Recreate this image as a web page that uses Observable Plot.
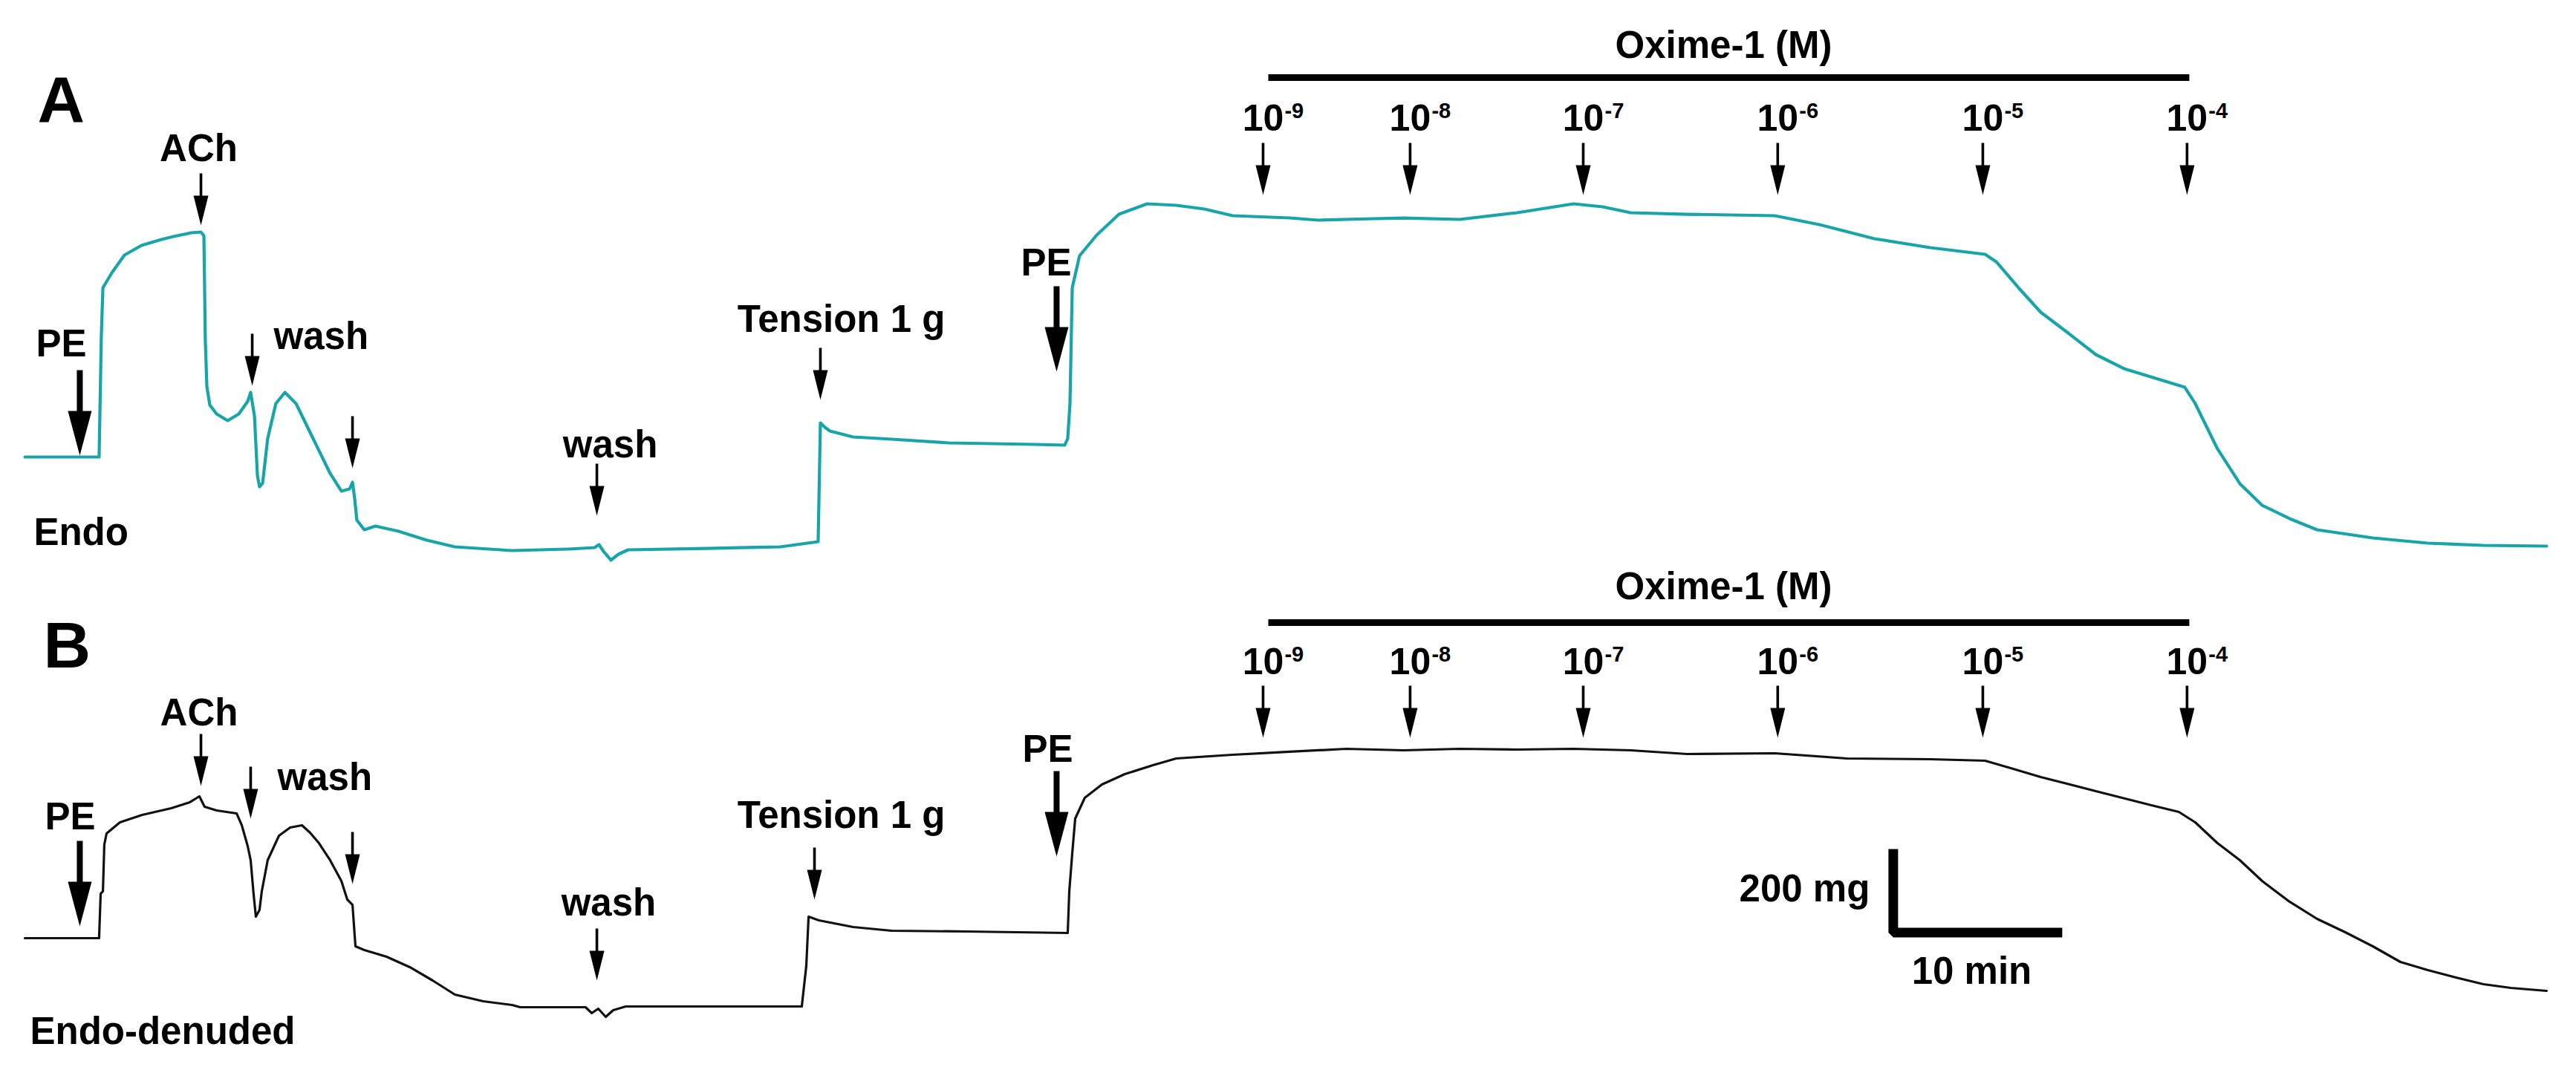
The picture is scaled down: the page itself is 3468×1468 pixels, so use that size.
<!DOCTYPE html>
<html>
<head>
<meta charset="utf-8">
<script src="https://cdn.jsdelivr.net/npm/d3@7"></script>
<script src="https://cdn.jsdelivr.net/npm/@observablehq/plot@0.6"></script>
<style>
  html, body { margin: 0; padding: 0; background: #ffffff; }
  #chart { width: 3468px; height: 1468px; }
  #chart svg { display: block; max-width: none; }
</style>
</head>
<body>
<div id="chart"></div>
<script>
// ---------------- DATA (time in min, tension in mg) ----------------
// Panel A: endothelium-intact (Endo)
const timeA = [
  0, 4.27, 4.40, 4.49, 5.00, 5.73, 6.71, 7.86, 8.55, 9.57,
  10.13, 10.30, 10.38, 10.47, 10.64, 11.03, 11.67, 12.31, 12.82, 12.99,
  13.21, 13.38, 13.50, 13.68, 13.97, 14.44, 14.96, 15.60, 16.58, 17.56,
  18.21, 18.68, 18.85, 18.97, 19.10, 19.53, 20.17, 21.50, 23.12, 24.74,
  28.03, 31.28, 32.78, 33.03, 33.29, 33.72, 34.15, 34.70, 39.19, 43.46,
  45.34, 45.64, 45.77, 46.03, 46.32, 47.65, 49.87, 53.16, 58.03, 59.83,
  60.00, 60.13, 60.26, 60.68, 61.67, 62.95, 64.57, 66.24, 67.86, 69.49,
  72.78, 74.40, 77.65, 79.32, 82.56, 85.85, 89.10, 90.77, 92.39, 95.64,
  100.68, 103.25, 106.41, 109.62, 112.78, 113.42, 114.70, 115.98, 117.56, 119.15,
  120.77, 124.27, 124.87, 126.15, 127.44, 128.72, 130.30, 131.88, 135.09, 138.25,
  141.45, 145.09
];
const tensionA = [
  211.8, 211.8, 489.1, 595.0, 628.6, 668.9, 690.8, 704.2, 710.9, 719.3,
  721.0, 712.6, 477.3, 371.4, 329.4, 309.2, 294.1, 309.2, 337.8, 358.0,
  304.2, 169.7, 144.5, 152.9, 253.8, 332.8, 358.0, 332.8, 253.8, 174.8,
  134.5, 139.5, 154.6, 119.3, 68.9, 47.1, 55.5, 43.7, 23.5, 8.4,
  0, 3.4, 6.7, 13.4, -1.7, -21.8, -8.4, 1.7, 5.0, 8.4,
  18.5, 20.2, 289.1, 279.0, 270.6, 257.1, 252.1, 243.7, 240.3, 238.7,
  253.8, 332.8, 595.0, 667.2, 714.3, 761.3, 784.9, 781.5, 773.1, 758.0,
  752.9, 747.9, 751.3, 752.9, 749.6, 764.7, 784.9, 778.2, 764.7, 761.3,
  758.0, 737.8, 705.9, 685.7, 670.6, 653.8, 595.0, 539.5, 492.4, 443.7,
  411.8, 369.7, 332.8, 230.3, 151.3, 102.5, 72.3, 47.1, 28.6, 16.8,
  11.8, 10.1
];
// Panel B: endothelium-denuded
const timeB = [
  0, 4.27, 4.36, 4.49, 4.57, 4.70, 5.47, 6.75, 8.42, 9.49,
  10.04, 10.34, 11.03, 12.18, 12.48, 12.82, 12.99, 13.16, 13.29, 13.50,
  13.63, 13.97, 14.62, 15.26, 15.94, 16.41, 16.92, 17.56, 18.21, 18.55,
  18.85, 19.02, 19.53, 20.81, 22.14, 23.46, 24.74, 26.37, 28.03, 28.50,
  32.26, 32.61, 32.99, 33.42, 33.85, 34.57, 39.19, 44.70, 44.96, 45.09,
  45.68, 47.65, 49.87, 54.15, 60.00, 60.09, 60.26, 60.43, 60.98, 61.97,
  63.29, 64.91, 66.24, 69.49, 72.78, 76.03, 79.32, 82.56, 85.85, 89.10,
  92.39, 95.64, 100.68, 104.83, 109.62, 112.78, 114.40, 115.98, 119.15, 122.35,
  123.93, 124.87, 126.15, 127.44, 128.72, 130.30, 131.88, 133.50, 135.09, 136.67,
  138.25, 139.87, 141.45, 143.03, 145.09
];
const tensionB = [
  156.3, 156.3, 257.1, 262.2, 368.1, 393.3, 418.5, 435.3, 450.4, 463.9,
  477.3, 453.8, 445.4, 438.7, 411.8, 364.7, 332.8, 255.5, 205.0, 220.2,
  262.2, 332.8, 388.2, 406.7, 411.8, 395.0, 371.4, 332.8, 285.7, 243.7,
  231.9, 137.8, 129.4, 114.3, 90.8, 60.5, 28.6, 13.4, 5.0, 0,
  0, -13.4, -3.4, -21.8, -6.7, 1.7, 1.7, 1.7, 94.1, 205.0,
  196.6, 181.5, 173.1, 171.4, 168.1, 262.2, 347.9, 426.9, 474.0, 504.2,
  527.7, 547.9, 563.0, 571.4, 578.2, 584.9, 581.5, 584.9, 583.2, 584.9,
  581.5, 573.1, 574.8, 563.0, 561.3, 558.0, 539.5, 521.0, 489.1, 457.1,
  442.0, 418.5, 371.4, 332.8, 285.7, 238.7, 200.0, 169.7, 137.8, 102.5,
  84.0, 67.2, 52.1, 43.7, 37.0
];

// Event annotations (arrow times in min, arrow tip level in mg)
const eventLabels   = ["PE", "ACh", "wash", "", "wash", "Tension 1 g", "PE"];
const eventBig      = [true, false, false, false, false, false, true];
const eventTimesA   = [3.16, 10.13, 13.08, 18.85, 32.91, 45.77, 59.36];
const eventTipsA    = [215.1, 736.1, 373.1, 186.6, 79.0, 341.2, 405.0];
const eventTimesB   = [3.16, 10.13, 12.99, 18.85, 32.91, 45.43, 59.36];
const eventTipsB    = [183.2, 500.8, 426.9, 279.0, 60.5, 243.7, 341.2];

// Oxime-1 cumulative concentrations
const oximeExponents = ["-9", "-8", "-7", "-6", "-5", "-4"];
const oximeTimes     = [71.24, 79.70, 89.66, 100.85, 112.65, 124.40];
const oximeBar       = [71.54, 124.53];

// Scale bar
const scaleMinutes = 10;
const scaleMg = 200;

// ---------------- LAYOUT / STYLE ----------------
const W = 3468;
const xDomain = [-1.41, 146.8];
const FONT = "'Liberation Sans', Arial, Helvetica, sans-serif";
const TEAL = "#19a4aa";
const MG_PER_PX = 1 / 0.595;
const MIN_PER_PX = 1 / 23.4;

// Arrow symbols (tip at the anchor point, drawn upward)
const smallArrow = {
  draw(ctx) {
    const hw = 10, hh = 40, sw = 1.8, L = 70;
    ctx.moveTo(-sw, -L); ctx.lineTo(sw, -L); ctx.lineTo(sw, -hh);
    ctx.lineTo(hw, -hh); ctx.lineTo(0, 0); ctx.lineTo(-hw, -hh);
    ctx.lineTo(-sw, -hh); ctx.closePath();
  }
};
const bigArrow = {
  draw(ctx) {
    const hw = 16, hh = 60, sw = 4, L = 115;
    ctx.moveTo(-sw, -L); ctx.lineTo(sw, -L); ctx.lineTo(sw, -hh);
    ctx.lineTo(hw, -hh); ctx.lineTo(0, 0); ctx.lineTo(-hw, -hh);
    ctx.lineTo(-sw, -hh); ctx.closePath();
  }
};

function textMark(rows, opts) {
  return Plot.text(rows, {
    x: "t", y: "mg", text: "text",
    fontFamily: FONT, fontWeight: "bold", fill: "black",
    lineAnchor: "bottom", ...opts
  });
}

function panel(cfg) {
  const trace = cfg.time.map((t, i) => ({t, mg: cfg.tension[i]}));
  const events = cfg.eventTimes.map((t, i) => ({t, tip: cfg.eventTips[i], big: eventBig[i]}));
  const oxArrows = oximeTimes.map(t => ({t, tip: cfg.oxTip}));
  const oxTens = oximeTimes.map(t => ({t, mg: cfg.oxLabel, text: "10"}));
  const oxSup = oximeTimes.map((t, i) => ({t, mg: cfg.oxLabel, text: oximeExponents[i]}));
  const barLine = oximeBar.map(t => ({t, mg: cfg.oxBar}));
  const marks = [
    Plot.line(trace, {x: "t", y: "mg", stroke: cfg.color, strokeWidth: cfg.lineWidth, strokeLinejoin: "round", strokeLinecap: "round"}),
    Plot.dot(events.filter(d => !d.big), {x: "t", y: "tip", symbol: smallArrow, fill: "black", stroke: "none"}),
    Plot.dot(events.filter(d => d.big), {x: "t", y: "tip", symbol: bigArrow, fill: "black", stroke: "none"}),
    Plot.dot(oxArrows, {x: "t", y: "tip", symbol: smallArrow, fill: "black", stroke: "none"}),
    Plot.line(barLine, {x: "t", y: "mg", stroke: "black", strokeWidth: 9, strokeLinecap: "butt"}),
    textMark([{t: (oximeBar[0] + oximeBar[1]) / 2 - 0.3, mg: cfg.oxTitle, text: "Oxime-1 (M)"}], {fontSize: 51}),
    textMark(oxTens, {fontSize: 50}),
    textMark(oxSup, {fontSize: 29, textAnchor: "start", dx: 29, dy: -17}),
    textMark(cfg.labels.filter(d => d.anchor === "middle"), {fontSize: 51}),
    textMark(cfg.labels.filter(d => d.anchor === "start"), {fontSize: 51, textAnchor: "start"}),
    textMark([cfg.letter], {fontSize: 88, textAnchor: "start"})
  ];
  if (cfg.scaleBar) {
    const s = cfg.scaleBar;
    const ht = 6.5 * MIN_PER_PX, hm = 6.5 * MG_PER_PX;
    const pts = [
      {t: s.t + ht, mg: s.mg + scaleMg},
      {t: s.t + ht, mg: s.mg + hm},
      {t: s.t + scaleMinutes, mg: s.mg + hm}
    ];
    marks.push(Plot.line(pts, {x: "t", y: "mg", stroke: "black", strokeWidth: 13, strokeLinejoin: "miter", strokeLinecap: "butt"}));
    marks.push(textMark([{t: s.t - 1.07, mg: s.mg + 82.3, text: `${scaleMg} mg`}], {fontSize: 51, textAnchor: "end"}));
    marks.push(textMark([{t: s.t + 4.79, mg: s.mg - 105.9, text: `${scaleMinutes} min`}], {fontSize: 51}));
  }
  return Plot.plot({
    width: W,
    height: cfg.height,
    margin: 0,
    x: {domain: xDomain, axis: null},
    y: {domain: cfg.yDomain, axis: null},
    style: {background: "transparent", overflow: "visible", fontFamily: FONT},
    marks
  });
}

const labelsA = eventLabels.map((text, i) => ({text})).filter(d => d.text);
const panelA = panel({
  height: 760,
  yDomain: [-31.93, 1245.38],
  time: timeA, tension: tensionA, color: TEAL, lineWidth: 4.2,
  eventTimes: eventTimesA, eventTips: eventTipsA,
  oxTip: 805.0, oxLabel: 949.6, oxBar: 1070.6, oxTitle: 1114.3,
  letter: {text: "A", t: 0.73, mg: 971.4},
  labels: [
    {text: eventLabels[0], t: 2.09, mg: 438.7, anchor: "middle"},
    {text: eventLabels[1], t: 10.0, mg: 880.7, anchor: "middle"},
    {text: eventLabels[2], t: 14.32, mg: 455.5, anchor: "start"},
    {text: eventLabels[4], t: 33.68, mg: 210.1, anchor: "middle"},
    {text: eventLabels[5], t: 46.97, mg: 495.8, anchor: "middle"},
    {text: eventLabels[6], t: 58.76, mg: 623.5, anchor: "middle"},
    {text: "Endo", t: 0.51, mg: 13.4, anchor: "start"}
  ]
});
const panelB = panel({
  height: 708,
  yDomain: [-188.24, 1001.68],
  time: timeB, tension: tensionB, color: "#111111", lineWidth: 3.2,
  eventTimes: eventTimesB, eventTips: eventTipsB,
  oxTip: 610.1, oxLabel: 754.6, oxBar: 870.6, oxTitle: 922.7,
  letter: {text: "B", t: 1.07, mg: 769.7},
  labels: [
    {text: eventLabels[0], t: 2.61, mg: 401.7, anchor: "middle"},
    {text: eventLabels[1], t: 10.02, mg: 637.0, anchor: "middle"},
    {text: eventLabels[2], t: 14.53, mg: 492.4, anchor: "start"},
    {text: eventLabels[4], t: 33.59, mg: 208.4, anchor: "middle"},
    {text: eventLabels[5], t: 46.97, mg: 406.7, anchor: "middle"},
    {text: eventLabels[6], t: 58.85, mg: 556.3, anchor: "middle"},
    {text: "Endo-denuded", t: 0.30, mg: -82.4, anchor: "start"}
  ],
  scaleBar: {t: 107.22, mg: 158.0}
});

const chart = document.getElementById("chart");
chart.appendChild(panelA);
chart.appendChild(panelB);
</script>
</body>
</html>
